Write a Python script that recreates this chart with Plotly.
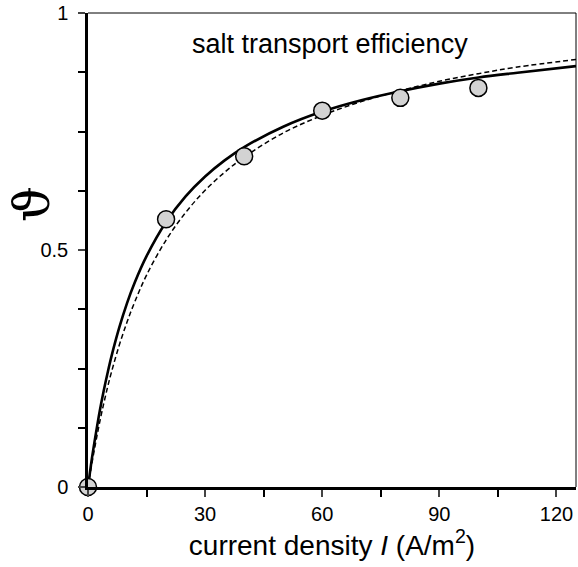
import plotly.graph_objects as go

# measured data points
I_data = [0, 20, 40, 60, 80, 100]
theta_data = [0.0, 0.565, 0.698, 0.794, 0.821, 0.842]

# model curves
I_curve = [0, 1, 2, 3, 4, 5, 6, 8, 10, 12, 15, 20, 25, 30, 35, 40, 50, 60, 70, 80, 90, 100, 110, 125]
theta_solid = [0.0, 0.060, 0.112, 0.160, 0.202, 0.240, 0.275, 0.336, 0.388, 0.432, 0.487, 0.559,
               0.613, 0.655, 0.689, 0.717, 0.760, 0.792, 0.816, 0.835, 0.851, 0.864, 0.874, 0.888]
theta_dashed = [0.0, 0.050, 0.095, 0.137, 0.175, 0.210, 0.242, 0.299, 0.348, 0.391, 0.447, 0.521,
                0.579, 0.626, 0.664, 0.696, 0.747, 0.784, 0.813, 0.836, 0.856, 0.872, 0.886, 0.902]

x_ticks = [0, 30, 60, 90, 120]
y_ticks = [0, 0.5, 1]
y_tick_labels = ["0", "0.5", "1"]

FONT = "Liberation Sans, Arial, sans-serif"

fig = go.Figure()
fig.add_trace(go.Scatter(x=I_curve, y=theta_dashed, mode="lines",
                         line=dict(color="black", width=1.5, dash="5px,3px", shape="spline"),
                         hoverinfo="skip"))
fig.add_trace(go.Scatter(x=I_curve, y=theta_solid, mode="lines",
                         line=dict(color="black", width=2.6, shape="spline"), hoverinfo="skip"))
fig.add_trace(go.Scatter(x=I_data, y=theta_data, mode="markers", cliponaxis=False,
                         marker=dict(size=17, color="#d3d3d3", line=dict(color="black", width=1.5))))

fig.update_layout(
    width=578, height=567,
    margin=dict(l=88, r=2, t=11, b=80),
    plot_bgcolor="white", paper_bgcolor="white",
    showlegend=False,
    font=dict(family=FONT, color="black"),
    xaxis=dict(range=[0, 125], tickvals=x_ticks, ticks="outside", ticklen=7, tickwidth=1.5,
               showline=True, linewidth=2.5, linecolor="black", showgrid=False, zeroline=False,
               tickfont=dict(size=20, family=FONT), ticklabeloverflow="allow",
               minor=dict(dtick=15, tick0=0, ticks="outside", ticklen=7, tickwidth=1.5, tickcolor="black"),
               title=dict(text="current density <i>I</i> (A/m<sup>2</sup>)", font=dict(size=28, family=FONT),
                          standoff=4)),
    yaxis=dict(range=[0, 1], tickvals=y_ticks, ticktext=y_tick_labels, ticks="outside", ticklen=7,
               tickwidth=1.5, showline=True, linewidth=2.5, linecolor="black", showgrid=False,
               zeroline=False, tickfont=dict(size=20, family=FONT), ticklabeloverflow="allow",
               ticklabelstandoff=6,
               minor=dict(dtick=0.125, tick0=0, ticks="outside", ticklen=7, tickwidth=1.5, tickcolor="black")),
    shapes=[
        dict(type="line", xref="paper", yref="paper", x0=0, x1=1, y0=1, y1=1,
             line=dict(color="black", width=1)),
        dict(type="line", xref="paper", yref="paper", x0=1, x1=1, y0=0, y1=1,
             line=dict(color="black", width=1)),
    ],
    annotations=[
        dict(text="salt transport efficiency", x=62, y=0.935, xref="x", yref="y",
             showarrow=False, font=dict(size=27, family=FONT), xanchor="center", yanchor="middle"),
        dict(text="ϑ", x=-0.115, y=0.597, xref="paper", yref="paper", textangle=-90,
             showarrow=False, font=dict(size=50, family="DejaVu Serif"),
             xanchor="center", yanchor="middle"),
    ],
)

fig.write_html("out.html", config={"displayModeBar": False},
               post_script="document.documentElement.style.overflow='hidden';"
                           "document.body.style.margin='0';document.body.style.overflow='hidden';")
